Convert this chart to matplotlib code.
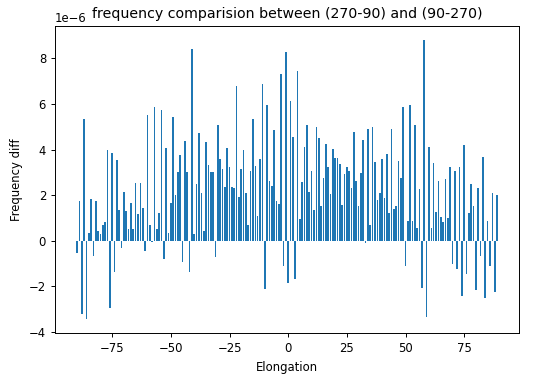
import matplotlib

matplotlib.use("Agg")
import matplotlib.pyplot as plt
import numpy as np

# elongation in degrees, one bar per degree
elongation = np.arange(-90, 90)

# frequency difference, in units of 1e-6
freq_diff_e6 = [
    -0.55, 1.75, -3.22, 5.35, -3.45, 0.32, 1.82, -0.67, 1.72, 0.40,   # -90 .. -81
    0.28, 0.70, 0.80, 4.00, -2.95, 3.85, -1.38, 3.55, 1.33, -0.35,    # -80 .. -71
    2.15, 1.30, 0.50, 1.67, 0.50, 2.52, 1.16, 2.55, 1.45, -0.45,      # -70 .. -61
    5.50, 0.67, -0.08, 5.89, 0.50, 1.23, 5.73, -0.82, 4.06, 0.32,     # -60 .. -51
    1.63, 5.44, 2.00, 3.03, 3.75, -0.94, 4.38, 3.03, -1.38, 8.41,     # -50 .. -41
    0.28, 2.50, 4.72, 2.10, 0.42, 4.34, 3.30, 3.03, 3.03, -0.72,      # -40 .. -31
    5.07, 3.57, 3.16, 2.36, 4.06, 3.24, 2.36, 2.30, 6.80, 1.92,       # -30 .. -21
    3.16, 3.99, 2.10, 0.69, 3.06, 5.33, 3.28, 1.08, 3.60, 6.87,       # -20 .. -11
    -2.11, 5.95, 2.62, 2.40, 4.86, 1.74, 1.60, 7.34, -1.11, 8.30,     # -10 .. -1
    -1.86, 6.14, 4.56, -1.70, 7.43, 0.94, 2.59, 4.09, 5.07, 2.15,     # 0 .. 9
    3.06, 1.33, 5.00, 4.50, 1.52, 2.77, 4.26, 3.24, 2.04, 4.01,       # 10 .. 19
    3.62, 3.62, 3.36, 1.57, 2.92, 3.24, 3.06, 2.30, 4.79, 2.62,       # 20 .. 29
    1.52, 2.96, 4.41, -0.13, 4.89, 0.69, 4.97, 3.46, 1.77, 2.08,      # 30 .. 39
    3.57, 1.86, 3.82, 1.19, 4.92, 1.38, 1.50, 3.50, 2.74, 5.88,       # 40 .. 49
    -1.14, 0.84, 5.95, 0.86, 5.07, 0.57, 2.26, -2.10, 8.82, -3.36,    # 50 .. 59
    4.13, 0.57, 3.40, 1.26, 2.62, 1.04, 0.82, 2.70, 1.01, 3.24,       # 60 .. 69
    -1.04, 3.06, -1.26, 3.25, -2.43, 4.19, -1.48, 1.19, 2.48, 1.52,   # 70 .. 79
    -2.17, 2.30, -0.67, 3.65, -2.53, 0.84, -1.14, 2.07, -2.24, 2.01,  # 80 .. 89
]

freq_diff = np.array(freq_diff_e6) * 1e-6

plt.rcParams["font.size"] = 8.4
plt.rcParams["axes.linewidth"] = 0.7
plt.rcParams["xtick.major.width"] = 0.7
plt.rcParams["ytick.major.width"] = 0.7
plt.rcParams["xtick.major.size"] = 3.0
plt.rcParams["ytick.major.size"] = 3.0

fig, ax = plt.subplots(figsize=(5.4, 3.75), dpi=100)
fig.subplots_adjust(left=0.102, right=0.961, bottom=0.112, top=0.931)

ax.bar(elongation, freq_diff, width=0.7, color="tab:blue")
ax.set_xlabel("Elongation")
ax.set_ylabel("Frequency diff")
ax.set_title("frequency comparision between (270-90) and (90-270)", fontsize=10.2)

fig.savefig("out.png", dpi=100)
